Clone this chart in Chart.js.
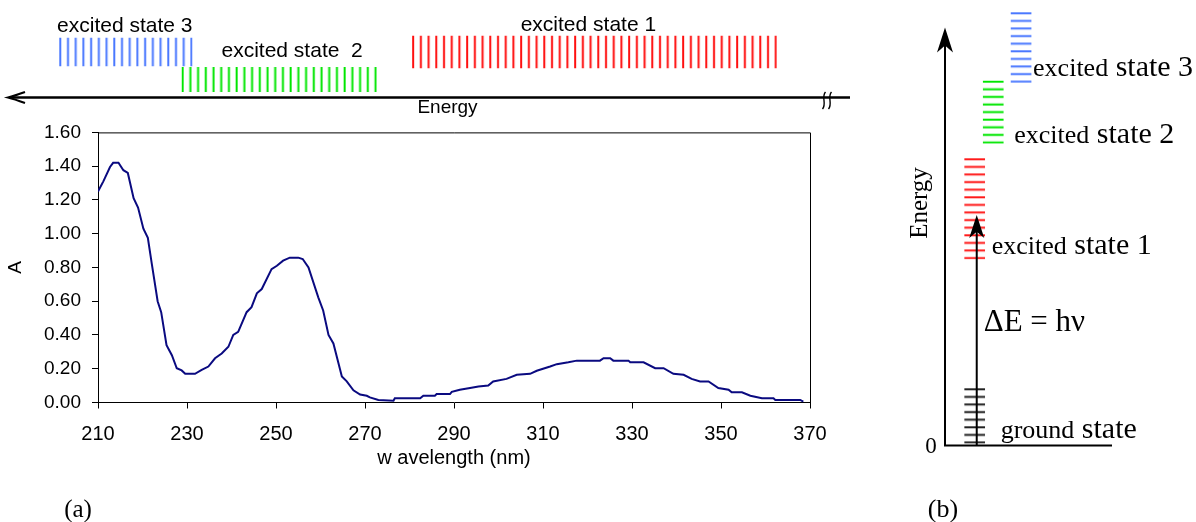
<!DOCTYPE html>
<html>
<head>
<meta charset="utf-8">
<script src="https://cdn.jsdelivr.net/npm/chart.js@4.4.1/dist/chart.umd.min.js"></script>
<style>
    html, body { margin: 0; background: #fff; }
    #page { position: relative; width: 1196px; height: 522px; overflow: hidden; background: #fff; }
    .box  { position: absolute; }
</style>
</head>
<body>
<div id="page">
    <div class="box" style="left:0;top:0;width:860px;height:125px"><canvas id="states"></canvas></div>
    <div class="box" style="left:0;top:110px;width:860px;height:412px"><canvas id="spectrum"></canvas></div>
    <div class="box" style="left:880px;top:0;width:316px;height:522px"><canvas id="diagram"></canvas></div>
</div>
<script>
// ── Data: absorption spectrum ─────────────────────────────

const wavelengths = [210, 211.2, 212.7, 213.4, 214.6, 215.7, 216.7, 218, 219, 220.2, 221.2, 222.1, 223.4, 224.2,
    225.4, 226.6, 227.7, 228.8, 229.6, 231.8, 233.3, 234.8, 236.3, 237.8, 239.3, 240.4, 241.5, 243.4, 244.5,
    245.7, 246.8, 249, 250.2, 251.6, 253.1, 255, 256, 257.3, 259.5, 260.6, 261.8, 262.9, 264.8, 265.9, 267.4,
    268.9, 270.4, 271.1, 273, 276.4, 276.7, 282.4, 283.1, 285.7, 286.1, 289.1, 289.5, 291.3, 293.6, 295.5,
    297.7, 298.8, 301.8, 304.1, 307.1, 308.6, 311.6, 313.1, 315.7, 317.6, 322.8, 323.6, 325.1, 325.8, 329.2,
    329.6, 332.6, 335.2, 337.1, 339.3, 341.6, 343.4, 345.3, 347.2, 349.4, 351.7, 352.4, 354.7, 356.6, 359.2,
    361.8, 362.2, 367.8, 368.5];

const absorbance = [1.25, 1.31, 1.395, 1.42, 1.42, 1.376, 1.36, 1.21, 1.155, 1.03, 0.975, 0.82, 0.60, 0.535,
    0.34, 0.28, 0.203, 0.19, 0.17, 0.17, 0.193, 0.213, 0.262, 0.29, 0.33, 0.40, 0.418, 0.535, 0.565,
    0.647, 0.672, 0.79, 0.81, 0.84, 0.858, 0.858, 0.85, 0.80, 0.623, 0.545, 0.40, 0.35, 0.154, 0.125, 0.072,
    0.047, 0.04, 0.03, 0.015, 0.01, 0.025, 0.025, 0.04, 0.04, 0.05, 0.05, 0.063, 0.076, 0.086, 0.095,
    0.10, 0.125, 0.14, 0.164, 0.17, 0.188, 0.213, 0.227, 0.238, 0.248, 0.248, 0.262, 0.262, 0.248, 0.248,
    0.238, 0.238, 0.203, 0.203, 0.17, 0.164, 0.14, 0.125, 0.125, 0.086, 0.076, 0.06, 0.06, 0.04, 0.025,
    0.025, 0.015, 0.015, 0.005];

const xTicks = [210, 230, 250, 270, 290, 310, 330, 350, 370];
const yTicks = [0, 0.2, 0.4, 0.6, 0.8, 1.0, 1.2, 1.4, 1.6];

// ── Data: excited state bands along the wavelength axis ───

const stateNames = ['excited state 3', 'excited state  2', 'excited state 1'];
const stateFrom  = [201.3, 228.8, 280.6];   // nm
const stateTo    = [231.2, 272.6, 362.5];   // nm
const stateRow   = [2, 1, 2];

// ── Data: energy level diagram ────────────────────────────

const levelNames = ['ground state', 'excited state 1', 'excited state 2', 'excited state 3'];
const levelLow   = [0.5, 46.6, 75.5, 90.7];
const levelHigh  = [14.3, 71.8, 91.2, 108.3];
const axisTop      = 104.5;
const photonEnergy = 57.6;

// ── Style ─────────────────────────────────────────────────

const SANS  = 'Liberation Sans, Arial, sans-serif';
const SERIF = 'Liberation Serif, Times New Roman, serif';

const stateColors    = ['#4a78ff', '#00e600', '#ff1010'];
const stateThickness = [28, 24.4, 32];
const stateLabelNudge = [[-1, 6], [13, 10], [-6, 5]];    // dx, gap above band

const levelColors  = ['#222222', '#ff1a1a', '#00e600', '#4a78ff'];
const levelColumns = [1.6, 1.6, 2.6, 4.1];
const levelLabelNudge = [[16, 6], [7, 5], [11, 1], [2, 7]]; // dx from band, dy up from band bottom
const transitionColumn = 1.71;

// ── Helpers ───────────────────────────────────────────────

function stripes(color, tile, count, vertical, offset) {
    const c = document.createElement('canvas');
    c.width  = vertical ? tile : 1;
    c.height = vertical ? 1 : tile;
    const g = c.getContext('2d');
    g.fillStyle = color;
    for (let k = 0; k < count; k++) {
        const p = k * tile / count;
        if (vertical) g.fillRect(p, 0, 2, 1);
        else g.fillRect(0, p, 1, 2);
    }
    const pat = g.createPattern(c, 'repeat');
    pat.setTransform(new DOMMatrix([1, 0, 0, 1, vertical ? offset : 0, vertical ? 0 : offset]));
    return pat;
}

function arrowHead(ctx, x, tipY, w, len) {
    ctx.beginPath();
    ctx.moveTo(x, tipY);
    ctx.lineTo(x - w / 2, tipY + len);
    ctx.lineTo(x, tipY + len * 0.72);
    ctx.lineTo(x + w / 2, tipY + len);
    ctx.closePath();
    ctx.fill();
}

// ── Chart: excited state bands + energy arrow ─────────────

const stateLabels = {
    id: 'stateLabels',
    afterDatasetsDraw(chart) {
        const ctx = chart.ctx;
        ctx.save();
        ctx.fillStyle = '#000';
        ctx.font = '21px ' + SANS;
        ctx.textAlign = 'center';
        ctx.textBaseline = 'alphabetic';
        chart.data.datasets.forEach((ds, i) => {
            const bar = chart.getDatasetMeta(i).data[0];
            const cx  = (bar.x + bar.base) / 2 + stateLabelNudge[i][0];
            const top = bar.y - bar.height / 2;
            ctx.fillText(stateNames[i], cx, top - stateLabelNudge[i][1]);
        });

        // energy axis, pointing to short wavelengths
        const y = 97.5;
        ctx.strokeStyle = '#000';
        ctx.lineWidth = 2.5;
        ctx.beginPath();
        ctx.moveTo(9, y);
        ctx.lineTo(850, y);
        ctx.stroke();
        ctx.lineWidth = 2;
        ctx.beginPath();
        ctx.moveTo(25, y - 5.5);
        ctx.quadraticCurveTo(14, y - 1.5, 8, y);
        ctx.quadraticCurveTo(14, y + 1.5, 25, y + 5.5);
        ctx.stroke();

        // axis break
        ctx.lineWidth = 1.4;
        [824, 830].forEach(bx => {
            ctx.beginPath();
            ctx.moveTo(bx + 1.5, 92);
            ctx.bezierCurveTo(bx - 3, 97, bx + 3, 104, bx - 1.5, 109);
            ctx.stroke();
        });

        ctx.font = '19px ' + SANS;
        ctx.fillText('Energy', 447.5, 113);
        ctx.restore();
    }
};

function StatesChart() {
    const ctx = document.getElementById('states').getContext('2d');

    new Chart(ctx, {
        type: 'bar',
        data: {
            datasets: stateNames.map((name, i) => ({
                label: name,
                data: [{ x: [stateFrom[i], stateTo[i]], y: stateRow[i] }],
                backgroundColor: c => {
                    const x0 = c.chart.scales.x.getPixelForValue(stateFrom[i]);
                    return isFinite(x0) ? stripes(stateColors[i], 54, 7, true, x0) : stateColors[i];
                },
                barThickness: stateThickness[i],
                borderWidth: 0,
                grouped: false,
                clip: false
            }))
        },
        options: {
            indexAxis: 'y',
            responsive: true,
            maintainAspectRatio: false,
            animation: false,
            layout: { padding: { left: 98, right: 50, top: 24.5, bottom: 18 } },
            plugins: { legend: { display: false }, tooltip: { enabled: false } },
            scales: {
                x: { type: 'linear', min: 210, max: 370, display: false, offset: false },
                y: { type: 'linear', min: 0, max: 3, display: false, offset: false }
            }
        },
        plugins: [stateLabels]
    });
}

// ── Chart: absorption spectrum ────────────────────────────

const frame = {
    id: 'frame',
    afterDraw(chart) {
        const { ctx, chartArea: a } = chart;
        ctx.save();
        ctx.strokeStyle = '#000';
        ctx.lineWidth = 1;
        ctx.beginPath();
        ctx.moveTo(a.left, a.top + 0.5);
        ctx.lineTo(a.right + 0.5, a.top + 0.5);
        ctx.lineTo(a.right + 0.5, a.bottom);
        ctx.stroke();

        ctx.fillStyle = '#000';
        ctx.font = '25px ' + SERIF;
        ctx.textAlign = 'center';
        ctx.textBaseline = 'middle';
        ctx.fillText('(a)', 78, 400);
        ctx.restore();
    }
};

function SpectrumChart() {
    const ctx = document.getElementById('spectrum').getContext('2d');
    const axisFont = { family: SANS, size: 19 };

    new Chart(ctx, {
        type: 'line',
        data: {
            datasets: [{
                data: wavelengths.map((w, i) => ({ x: w, y: absorbance[i] })),
                borderColor: '#0a0a80',
                borderWidth: 2,
                pointRadius: 0,
                tension: 0,
                fill: false
            }]
        },
        options: {
            responsive: true,
            maintainAspectRatio: false,
            animation: false,
            layout: { padding: { top: 20, right: 50, bottom: 42, left: 0 } },
            plugins: { legend: { display: false }, tooltip: { enabled: false } },
            scales: {
                x: {
                    type: 'linear',
                    min: 210,
                    max: 370,
                    afterBuildTicks: s => { s.ticks = xTicks.map(v => ({ value: v })); },
                    afterFit: s => { s.height = 77.5; },
                    grid:   { drawOnChartArea: false, tickLength: 6, color: '#000' },
                    border: { color: '#000', width: 1 },
                    ticks:  { color: '#000', font: { family: SANS, size: 20 }, padding: 14, maxRotation: 0, autoSkip: false },
                    title:  { display: true, text: 'w avelength (nm)', color: '#000', font: { family: SANS, size: 20 }, padding: { top: 0, bottom: 10 } }
                },
                y: {
                    min: 0,
                    max: 1.6,
                    afterBuildTicks: s => { s.ticks = yTicks.map(v => ({ value: v })); },
                    afterFit: s => { s.width = 98; },
                    grid:   { drawOnChartArea: false, tickLength: 6, color: '#000' },
                    border: { color: '#000', width: 1 },
                    ticks:  { color: '#000', font: axisFont, padding: 11, callback: v => v.toFixed(2) },
                    title:  { display: true, text: 'A', color: '#000', font: axisFont }
                }
            }
        },
        plugins: [frame]
    });
}

// ── Chart: energy level diagram ───────────────────────────

const diagramDecor = {
    id: 'diagramDecor',
    afterDatasetsDraw(chart) {
        const { ctx, chartArea: a, scales } = chart;
        ctx.save();
        ctx.strokeStyle = '#000';
        ctx.fillStyle = '#000';
        ctx.lineWidth = 2;

        // axes
        const tip = scales.y.getPixelForValue(axisTop);
        ctx.beginPath();
        ctx.moveTo(a.left, a.bottom);
        ctx.lineTo(a.left, tip + 10);
        ctx.moveTo(a.left - 1, a.bottom);
        ctx.lineTo(a.right, a.bottom);
        ctx.stroke();
        arrowHead(ctx, a.left, tip, 16, 25);

        // transition arrow
        const tx = scales.x.getPixelForValue(transitionColumn);
        const ty = scales.y.getPixelForValue(photonEnergy);
        ctx.beginPath();
        ctx.moveTo(tx, a.bottom);
        ctx.lineTo(tx, ty + 10);
        ctx.stroke();
        arrowHead(ctx, tx, ty, 15, 23);

        ctx.textBaseline = 'alphabetic';
        ctx.textAlign = 'left';
        ctx.font = '31px ' + SERIF;
        ctx.fillText('\u0394E = h\u03bd', tx + 7, 331);

        // level labels: first word smaller than "state"
        levelNames.forEach((name, i) => {
            const bar = chart.getDatasetMeta(i).data[0];
            const x = bar.x + bar.width / 2 + levelLabelNudge[i][0];
            const y = bar.base - levelLabelNudge[i][1];
            const cut = name.indexOf(' ');
            const head = name.slice(0, cut);
            const rest = name.slice(cut);
            ctx.font = '26px ' + SERIF;
            ctx.fillText(head, x, y);
            const w = ctx.measureText(head).width;
            ctx.font = '30px ' + SERIF;
            ctx.fillText(rest, x + w, y);
        });

        ctx.textAlign = 'center';
        ctx.textBaseline = 'middle';
        ctx.font = '23px ' + SERIF;
        ctx.fillText('0', a.left - 14, a.bottom + 1);
        ctx.font = '26px ' + SERIF;
        ctx.fillText('(b)', 63, 510);

        ctx.font = '25px ' + SERIF;
        ctx.translate(40, 203);
        ctx.rotate(-Math.PI / 2);
        ctx.fillText('Energy', 0, 0);
        ctx.restore();
    }
};

function DiagramChart() {
    const ctx = document.getElementById('diagram').getContext('2d');

    new Chart(ctx, {
        type: 'bar',
        data: {
            datasets: levelNames.map((name, i) => ({
                label: name,
                data: [{ x: levelColumns[i], y: [levelLow[i], levelHigh[i]] }],
                backgroundColor: c => {
                    const y0 = c.chart.scales.y.getPixelForValue(levelHigh[i]);
                    return isFinite(y0) ? stripes(levelColors[i], 38, 5, false, y0) : levelColors[i];
                },
                barThickness: 20,
                borderWidth: 0,
                grouped: false,
                clip: false
            }))
        },
        options: {
            responsive: true,
            maintainAspectRatio: false,
            animation: false,
            layout: { padding: { left: 65, right: 84, top: 5.5, bottom: 76.5 } },
            plugins: { legend: { display: false }, tooltip: { enabled: false } },
            scales: {
                x: { type: 'linear', min: 0, max: 9, display: false, offset: false },
                y: { type: 'linear', min: 0, max: 110, display: false, offset: false }
            }
        },
        plugins: [diagramDecor]
    });
}

// ── Render all charts ─────────────────────────────────────

StatesChart();
SpectrumChart();
DiagramChart();
</script>
</body>
</html>
